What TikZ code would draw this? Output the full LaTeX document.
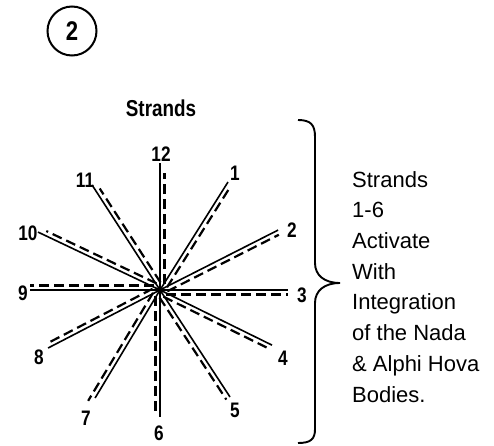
\documentclass[tikz,border=0pt]{standalone}
\usepackage{fontspec}
\setmainfont{Liberation Sans}
\newfontfamily\narrowfont[FakeStretch=0.82]{Liberation Sans}
\usetikzlibrary{calc}
\begin{document}
\begin{tikzpicture}[x=1pt,y=1pt,
  solidstrand/.style={line width=1.6pt},
  dashstrand/.style={line width=2.2pt, dash pattern=on 10pt off 5pt},
  numlabel/.style={font=\narrowfont\bfseries\fontsize{21}{21}\selectfont, inner sep=0pt},
  titlelabel/.style={font=\narrowfont\bfseries\fontsize{23}{23}\selectfont, inner sep=0pt},
  bodytext/.style={font=\fontsize{22}{30.7}\selectfont, align=left, inner sep=0pt, anchor=north west},
  badge/.style={circle, draw, line width=2pt, minimum size=49pt, inner sep=0pt,
                font=\narrowfont\bfseries\fontsize{27}{27}\selectfont},
  bracestyle/.style={line width=1.9pt}]
\useasboundingbox (0,0) rectangle (494,445);

% badge
\node[badge] (num) at (72,414) {2};

% title
\node[titlelabel] (title) at (161,336.5) {Strands};

% strands
\coordinate (c) at (160,155);
\foreach \n/\a/\L/\Ld in {12/90/127/117, 1/57.8/127.6/124, 2/26.9/132.4/131,
    3/0/128/128, 4/-26.2/124.8/124, 5/-56.8/127.9/128, 6/-90/127/125,
    7/-121/126/132, 8/-152.6/126.1/124, 9/180/130/130, 10/154.6/135/128,
    11/122.9/125/118}{
  \coordinate (s\n) at ($(c)+(\a:\L)$);
  \coordinate (da\n) at ($(c)+(\a-90:4.5)+(\a:6)$);
  \coordinate (db\n) at ($(c)+(\a-90:4.5)+(\a:\Ld)$);
  \draw[solidstrand] (c) -- (s\n);
  \draw[dashstrand] (da\n) -- (db\n);
}

% strand numbers
\node[numlabel] (l12) at (161,291) {12};
\node[numlabel] (l1) at (235,272) {1};
\node[numlabel] (l2) at (292,215) {2};
\node[numlabel] (l3) at (302,150) {3};
\node[numlabel] (l4) at (283,87) {4};
\node[numlabel] (l5) at (235,35) {5};
\node[numlabel] (l6) at (159,12) {6};
\node[numlabel] (l7) at (86,27) {7};
\node[numlabel] (l8) at (39,88) {8};
\node[numlabel] (l9) at (23,152) {9};
\node[numlabel] (l10) at (28,212) {10};
\node[numlabel] (l11) at (85,265) {11};

% brace
\coordinate (btop) at (298,325);
\coordinate (btip) at (340,162);
\coordinate (bbot) at (298,2);
\draw[bracestyle] (btop) .. controls (311,325) and (315,320) .. (315,308)
  -- (315,182) .. controls (315,170) and (324,162) .. (btip)
  .. controls (324,162) and (315,154) .. (315,142)
  -- (315,16) .. controls (315,6) and (311,2) .. (bbot);

% description
\node[bodytext] (desc) at (352,274) {Strands\\1-6\\Activate\\With\\Integration\\of the Nada\\\& Alphi Hova\\Bodies.};
\end{tikzpicture}
\end{document}
